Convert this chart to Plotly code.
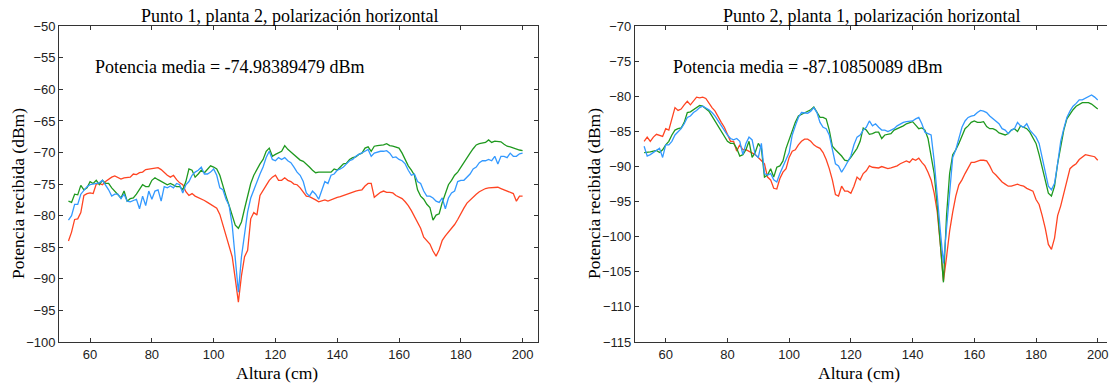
import plotly.graph_objects as go

altura = list(range(53, 201))

p1_red = [-84.0, -82.6, -80.6, -80.5, -79.5, -76.8, -76.5, -76.4, -76.5, -75.0,
          -74.9, -75.1, -74.6, -74.2, -73.9, -73.7, -74.0, -74.2, -74.0, -74.0,
          -73.9, -73.4, -73.5, -73.2, -73.1, -72.7, -72.6, -72.6, -72.5, -72.4,
          -72.7, -73.2, -73.6, -73.9, -73.6, -74.3, -74.8, -75.1, -76.2, -76.8,
          -76.5, -76.9, -77.1, -77.3, -77.6, -77.9, -78.2, -78.5, -78.8, -79.8,
          -81.5, -82.8, -84.5, -86.5, -90.0, -93.7, -89.5, -86.5, -85.5, -80.5,
          -79.5, -79.9, -76.8, -76.1, -75.2, -74.4, -73.9, -73.6, -74.4, -74.4,
          -74.0, -74.4, -74.6, -75.0, -75.1, -75.6, -76.2, -76.9, -77.0, -77.2,
          -77.5, -77.8, -77.6, -77.5, -77.7, -77.5, -77.2, -77.1, -77.0, -76.8,
          -76.7, -76.5, -76.3, -76.1, -76.0, -75.9, -75.3, -74.9, -74.9, -77.1,
          -76.7, -76.3, -76.1, -76.3, -76.3, -76.4, -76.8, -77.0, -77.3, -77.8,
          -78.4, -79.2, -80.1, -81.0, -82.0, -83.4, -84.0, -84.5, -85.6, -86.4,
          -85.4, -83.9, -83.2, -82.6, -82.0, -81.4, -80.6, -79.6, -78.8, -78.0,
          -77.5, -77.0, -76.6, -76.2, -75.9, -75.7, -75.6, -75.6, -75.6, -75.5,
          -75.7, -75.9, -76.1, -76.3, -76.5, -77.7, -76.9, -76.9]

p1_blue = [-80.7, -80.0, -78.2, -78.2, -76.6, -75.9, -75.4, -75.1, -75.0, -74.8,
           -74.8, -74.4, -75.1, -75.9, -76.9, -76.6, -76.6, -77.3, -76.6, -77.7,
           -77.8, -77.6, -77.4, -78.9, -76.9, -78.4, -76.1, -77.4, -76.1, -75.9,
           -77.7, -75.4, -75.6, -75.3, -75.6, -74.9, -75.1, -76.4, -75.1, -74.6,
           -73.6, -73.1, -72.8, -72.3, -73.4, -73.4, -73.1, -72.6, -73.6, -75.6,
           -75.9, -77.4, -78.4, -81.5, -86.5, -92.1, -86.5, -82.5, -79.4, -77.2,
           -75.9, -74.4, -73.4, -72.3, -70.8, -69.8, -71.1, -71.3, -70.8, -71.1,
           -70.8, -71.3, -71.6, -72.3, -73.1, -73.6, -74.6, -76.4, -76.9, -76.1,
           -76.6, -77.4, -75.9, -74.6, -74.9, -73.6, -73.4, -72.8, -72.6, -72.3,
           -71.8, -71.3, -71.1, -70.6, -70.3, -70.1, -69.8, -69.5, -70.6, -70.1,
           -69.9, -69.8, -69.8, -69.7, -70.1, -70.8, -70.7, -71.1, -71.3, -71.8,
           -72.8, -73.6, -73.4, -74.6, -74.9, -76.1, -76.9, -76.9, -77.2, -77.7,
           -77.9, -77.2, -78.9, -77.2, -76.4, -76.1, -74.6, -74.4, -74.4, -73.9,
           -73.4, -72.6, -72.3, -71.6, -71.3, -71.3, -71.1, -71.3, -70.6, -71.8,
           -70.6, -70.6, -70.8, -70.1, -70.6, -70.6, -70.2, -70.1]

p1_green = [-77.7, -77.9, -76.6, -76.7, -75.2, -75.9, -75.6, -74.6, -74.9, -74.4,
            -75.1, -74.4, -74.9, -74.9, -75.6, -76.1, -76.6, -77.2, -76.1, -77.7,
            -77.3, -77.2, -76.6, -75.9, -75.1, -75.4, -75.4, -74.4, -74.0, -74.3,
            -74.6, -74.8, -75.1, -74.9, -75.2, -75.4, -75.4, -75.9, -74.6, -72.6,
            -72.8, -73.9, -73.4, -72.8, -73.2, -72.6, -72.1, -72.3, -72.6, -73.6,
            -75.4, -76.9, -78.4, -79.9, -81.5, -82.0, -81.0, -78.9, -76.9, -74.9,
            -73.6, -72.6, -71.8, -71.1, -69.8, -69.3, -70.6, -70.3, -70.1, -69.8,
            -68.9, -69.5, -69.9, -70.3, -70.8, -71.2, -71.4, -71.8, -72.3, -72.8,
            -73.2, -73.1, -73.1, -73.2, -73.2, -73.1, -72.6, -72.8, -72.3, -71.8,
            -71.7, -71.1, -70.8, -70.7, -70.3, -70.1, -69.3, -69.1, -69.8, -69.0,
            -68.9, -68.9, -68.8, -68.6, -68.9, -69.0, -69.1, -69.3, -70.1, -71.1,
            -72.1, -72.8, -73.6, -75.9, -76.9, -77.4, -78.2, -78.7, -80.7, -79.9,
            -79.7, -77.9, -76.4, -75.1, -74.4, -73.6, -73.1, -72.3, -71.7, -70.8,
            -70.1, -69.4, -68.8, -68.6, -68.5, -68.4, -68.0, -68.4, -68.2, -68.2,
            -68.3, -68.7, -69.0, -69.1, -69.3, -69.5, -69.6, -69.7]

p2_red = [-86.4, -85.8, -86.4, -85.8, -85.4, -85.5, -85.7, -84.6, -84.8, -83.2,
          -81.6, -82.0, -81.8, -81.2, -80.7, -81.2, -80.6, -80.1, -80.2, -80.1,
          -80.3, -81.0, -81.6, -82.1, -82.8, -83.7, -84.4, -85.5, -86.4, -86.4,
          -87.8, -86.9, -87.6, -87.6, -87.8, -88.0, -88.3, -88.7, -89.2, -89.6,
          -91.5, -91.9, -93.1, -93.2, -91.7, -90.8, -90.3, -88.7, -87.8, -87.6,
          -86.9, -86.4, -86.1, -86.1, -86.4, -86.9, -87.2, -87.4, -88.0, -89.0,
          -90.3, -91.9, -94.0, -94.2, -92.8, -93.5, -93.5, -93.8, -92.8, -91.5,
          -91.9, -91.0, -90.6, -89.9, -90.1, -90.1, -90.2, -90.0, -90.1, -90.3,
          -90.2, -90.1, -89.9, -89.6, -89.4, -89.2, -89.4, -88.9, -89.1, -88.8,
          -89.4, -89.9, -90.8, -91.9, -93.8, -96.5, -101.1, -106.3, -102.9, -99.2,
          -96.5, -94.2, -92.6, -91.9, -91.0, -90.1, -89.4, -89.4, -89.2, -89.1,
          -89.1, -89.2, -89.9, -90.8, -91.2, -91.7, -92.2, -92.5, -92.8, -92.8,
          -92.7, -92.5, -92.7, -92.8, -93.1, -93.3, -93.5, -94.7, -95.4, -97.0,
          -98.8, -101.1, -101.8, -100.2, -97.0, -95.6, -93.8, -91.9, -90.3, -89.9,
          -89.6, -89.0, -88.7, -88.3, -88.4, -88.5, -88.6, -89.1]

p2_blue = [-87.1, -88.5, -88.3, -88.0, -87.8, -87.4, -88.7, -86.9, -86.9, -86.4,
           -85.5, -85.1, -84.6, -83.9, -83.0, -82.8, -82.3, -82.0, -81.6, -81.4,
           -81.6, -81.9, -82.3, -82.8, -83.5, -84.2, -84.8, -85.5, -86.0, -86.2,
           -86.0, -86.4, -88.3, -86.7, -85.8, -86.2, -88.3, -88.7, -86.7, -91.0,
           -91.2, -91.0, -91.9, -92.2, -91.0, -89.9, -89.0, -88.0, -85.5, -84.2,
           -83.0, -82.3, -82.3, -82.4, -82.1, -81.6, -82.3, -83.7, -84.4, -84.6,
           -85.5, -87.4, -89.6, -89.9, -90.8, -90.1, -89.2, -88.5, -86.9, -85.8,
           -85.5, -84.8, -84.4, -83.5, -84.2, -83.9, -84.4, -84.8, -84.8, -85.0,
           -84.8, -84.6, -84.2, -83.9, -83.7, -83.6, -83.6, -83.5, -83.2, -83.0,
           -83.9, -85.1, -85.3, -85.5, -89.2, -94.7, -99.2, -103.8, -99.2, -93.8,
           -88.7, -87.6, -86.0, -84.4, -83.5, -83.0, -82.8, -82.7, -82.3, -82.0,
           -82.1, -82.3, -82.8, -83.2, -83.5, -83.9, -84.6, -84.8, -85.3, -84.8,
           -84.6, -83.7, -84.2, -84.4, -83.9, -84.8, -85.3, -85.8, -86.7, -88.7,
           -91.0, -92.8, -93.3, -92.4, -89.6, -86.4, -84.6, -83.0, -82.1, -81.4,
           -81.0, -80.5, -80.5, -80.3, -80.1, -79.8, -80.1, -80.5]

p2_green = [-88.0, -88.0, -87.9, -87.8, -87.7, -88.0, -87.6, -86.9, -86.4, -85.5,
            -84.8, -84.6, -84.5, -83.7, -82.3, -82.2, -81.9, -81.6, -81.3, -81.4,
            -81.8, -82.1, -82.8, -83.5, -84.2, -85.1, -85.8, -86.4, -86.7, -86.7,
            -87.4, -88.5, -88.3, -87.6, -86.4, -88.7, -88.0, -86.7, -87.4, -91.5,
            -91.2, -90.3, -91.5, -90.1, -89.9, -89.2, -87.4, -86.2, -84.8, -83.7,
            -82.8, -82.6, -82.3, -82.1, -81.9, -81.5, -82.3, -83.0, -83.0, -83.2,
            -84.8, -87.1, -87.6, -88.0, -88.5, -89.1, -89.2, -88.7, -88.0, -87.4,
            -86.4, -84.5, -84.8, -85.4, -85.3, -85.1, -85.1, -86.0, -85.5, -85.4,
            -85.3, -84.8, -84.6, -84.5, -84.2, -83.9, -83.7, -83.6, -84.1, -84.6,
            -84.5, -84.8, -86.0, -88.3, -91.0, -95.6, -101.1, -106.5, -97.0, -91.0,
            -88.3, -87.6, -86.7, -85.5, -84.6, -84.2, -83.7, -83.5, -83.7, -83.7,
            -83.6, -84.3, -84.6, -84.6, -84.8, -85.2, -85.4, -85.5, -85.3, -84.8,
            -84.6, -85.0, -84.2, -84.4, -84.6, -85.1, -85.8, -86.7, -88.3, -90.1,
            -91.9, -93.8, -94.2, -92.8, -89.6, -86.9, -84.8, -83.2, -82.5, -81.9,
            -81.4, -81.1, -80.9, -80.9, -80.9, -81.1, -81.4, -81.8]

titles = ["Punto 1, planta 2, polarización horizontal",
          "Punto 2, planta 1, polarización horizontal"]
medias = ["Potencia media = -74.98389479 dBm",
          "Potencia media = -87.10850089 dBm"]
x_title = "Altura (cm)"
y_title = "Potencia recibida (dBm)"
x_ticks = [60, 80, 100, 120, 140, 160, 180, 200]
y_ticks_1 = [-100, -95, -90, -85, -80, -75, -70, -65, -60, -55, -50]
y_ticks_2 = [-115, -110, -105, -100, -95, -90, -85, -80, -75, -70]

W, H = 1109, 392
RED, BLUE, GREEN = "#ff4422", "#3399ff", "#1f991f"
AX = "#333333"
SERIF = "Liberation Serif"
SANS = "Liberation Sans"

fig = go.Figure()

def add_series(xa, ya, reds, blues, greens):
    for ys, c in ((reds, RED), (greens, GREEN), (blues, BLUE)):
        fig.add_trace(go.Scatter(x=altura, y=ys, mode="lines",
                                 line=dict(color=c, width=1.3),
                                 xaxis=xa, yaxis=ya, showlegend=False,
                                 hoverinfo="skip"))

add_series("x", "y", p1_red, p1_blue, p1_green)
add_series("x2", "y2", p2_red, p2_blue, p2_green)

ydom = [(H - 348.3) / H, (H - 20) / H]
tfont = dict(family=SANS, size=13, color="#222")
common_x = dict(tickvals=x_ticks, ticks="inside", ticklen=4, tickcolor=AX,
                showline=True, linecolor=AX, linewidth=1, showgrid=False,
                zeroline=False, tickfont=tfont, ticklabeloverflow="allow")
common_y = dict(ticks="inside", ticklen=4, tickcolor=AX, showline=True,
                linecolor=AX, linewidth=1, showgrid=False, zeroline=False,
                tickfont=tfont)

fig.update_layout(
    width=W, height=H,
    margin=dict(l=0, r=0, t=0, b=0),
    paper_bgcolor="white", plot_bgcolor="white",
    xaxis=dict(domain=[59.3 / W, 539 / W], range=[50, 205], anchor="y",
               mirror="ticks", **common_x),
    yaxis=dict(domain=ydom, range=[-100, -50], tickvals=y_ticks_1, anchor="x",
               mirror="ticks", **common_y),
    xaxis2=dict(domain=[636 / W, 1.0], range=[50, 203.0], anchor="y2",
                mirror="ticks", **common_x),
    yaxis2=dict(domain=ydom, range=[-115, -70], tickvals=y_ticks_2, anchor="x2",
                mirror=False, **common_y),
)

def px(x):
    return x / W

def py(y):
    return (H - y) / H

ann = []
big = dict(family=SERIF, size=18, color="black")
mid = dict(family=SERIF, size=17.5, color="black")
for tx, cx in zip(titles, [290, 873]):
    ann.append(dict(text=tx, x=px(cx), y=py(9), xref="paper", yref="paper",
                    xanchor="center", yanchor="middle", showarrow=False, font=big))
for tx, lx in zip(medias, [93.6, 672]):
    ann.append(dict(text=tx, x=px(lx), y=py(62.5), xref="paper", yref="paper",
                    xanchor="left", yanchor="middle", showarrow=False, font=big))
for cx in [278, 861]:
    ann.append(dict(text=x_title, x=px(cx), y=py(381), xref="paper", yref="paper",
                    xanchor="center", yanchor="middle", showarrow=False, font=mid))
for cx in [18, 595]:
    ann.append(dict(text=y_title, x=px(cx), y=py(193.5), xref="paper", yref="paper",
                    xanchor="center", yanchor="middle", showarrow=False, textangle=-90,
                    font=mid))
fig.update_layout(annotations=ann)

fig.write_html("out.html")
